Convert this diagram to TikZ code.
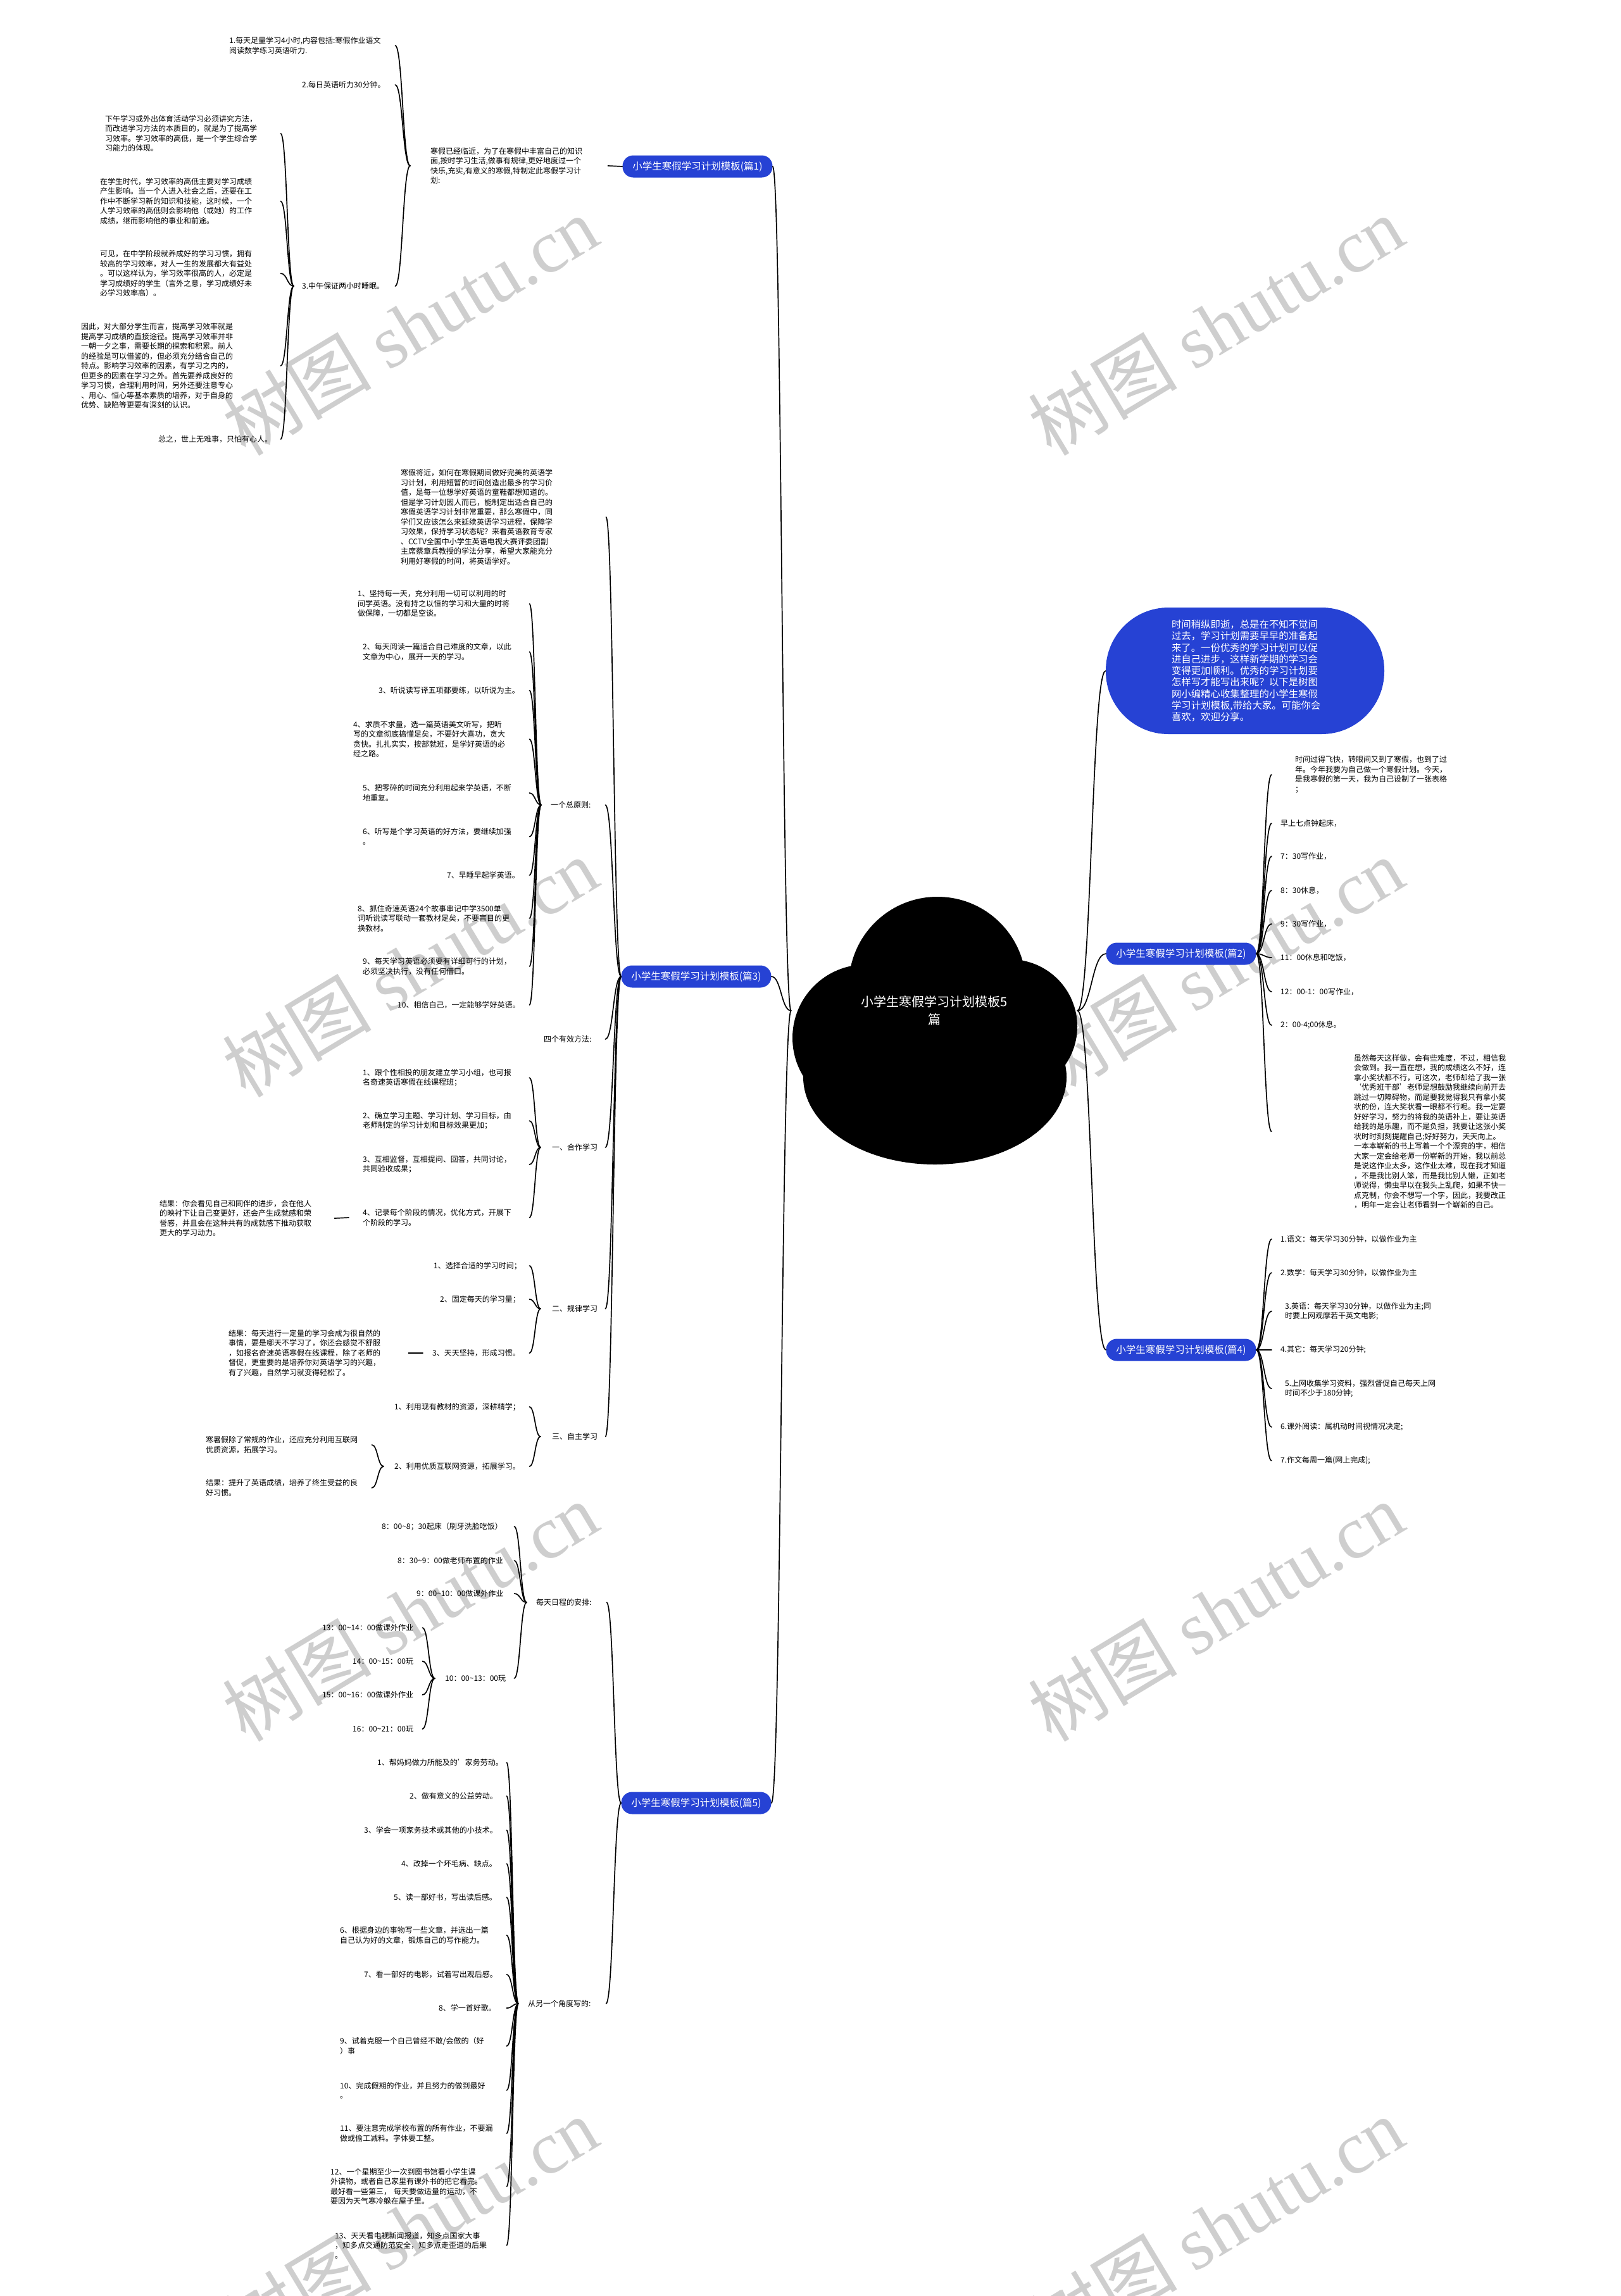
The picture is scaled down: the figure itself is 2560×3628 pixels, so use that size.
\documentclass[tikz,border=0pt]{standalone}
\usepackage{fontspec}
\setmainfont{Noto Sans CJK SC}
\newfontfamily\wmlat{Liberation Serif}
\usetikzlibrary{calc}
\definecolor{bl}{RGB}{38,66,212}
\definecolor{wmc}{RGB}{206,206,206}
\tikzset{
 cn/.style={line width=1.7pt, line cap=round, black},
 leaf/.style={font=\fontsize{12}{15.5}\selectfont, inner sep=0pt, align=left, anchor=west},
 branch/.style={fill=bl, text=white, font=\fontsize{15.5}{18}\selectfont, rounded corners=17pt, minimum height=35pt, minimum width=237pt, inner sep=0pt},
 wmk/.style={text=wmc, font=\fontsize{118}{120}\selectfont, rotate=31, inner sep=0pt},
}
\newcommand\cnx[2]{%
 \path (#1) coordinate (ca) (#2) coordinate (cb);
 \path ($(ca)!0.5!(cb)$) coordinate (cm);
 \draw[cn] (ca) .. controls (cm |- ca) and (cm |- cb) .. (cb);}
\newcommand\lfl[5]{\pgfmathsetmacro\tmpw{#4-#2}\node[leaf, text width=\tmpw pt] (#1) at (#2,#3) {#5};}
\newcommand\lfr[5]{\pgfmathsetmacro\tmpw{#4-#2}\node[leaf, inner xsep=\tmpw pt] (#1) at (#2,#3) {#5};}
\newcommand\tl{\textasciitilde}
\begin{document}
\begin{tikzpicture}[x=1pt,y=-1pt]
\useasboundingbox (0,0) rectangle (2560,3628);
\fill[white] (0,0) rectangle (2560,3628);
% watermarks
\foreach \x/\y [count=\i] in {648/514, 1921/514, 648/1528, 1921/1528, 648/2546, 1921/2546, 648/3518, 1921/3518}
 {\node[wmk] (wm\i) at (\x,\y) {树图 {\wmlat shutu.cn}};}
% cloud root
\fill[black] (1481,1557) circle[radius=140pt] (1368,1640) circle[radius=116pt] (1596,1622) circle[radius=106pt] (1477,1702) ellipse[x radius=208pt, y radius=138pt];
\node[text=white, font=\fontsize{20}{28}\selectfont, minimum width=452pt, inner sep=0pt, align=center] (root) at (1476,1597) {小学生寒假学习计划模板5\\篇};

% ===== 篇1 =====
\node[branch] (L1) at (1102,263) {小学生寒假学习计划模板(篇1)};
\lfl{I1}{680}{262}{960}{寒假已经临近，为了在寒假中丰富自己的知识\\面,按时学习生活,做事有规律,更好地度过一个\\快乐,充实,有意义的寒假,特制定此寒假学习计\\划:}
\lfl{p11}{362}{72}{624}{1.每天足量学习4小时,内容包括:寒假作业语文\\阅读数学练习英语听力.}
\lfl{p12}{477}{134}{624}{2.每日英语听力30分钟。}
\lfl{p13}{477}{452}{624}{3.中午保证两小时睡眠。}
\lfl{p131}{166}{211}{443}{下午学习或外出体育活动学习必须讲究方法，\\而改进学习方法的本质目的，就是为了提高学\\习效率。学习效率的高低，是一个学生综合学\\习能力的体现。}
\lfl{p132}{158}{318}{443}{在学生时代，学习效率的高低主要对学习成绩\\产生影响。当一个人进入社会之后，还要在工\\作中不断学习新的知识和技能，这时候，一个\\人学习效率的高低则会影响他（或她）的工作\\成绩，继而影响他的事业和前途。}
\lfl{p133}{158}{432}{443}{可见，在中学阶段就养成好的学习习惯，拥有\\较高的学习效率，对人一生的发展都大有益处\\。可以这样认为，学习效率很高的人，必定是\\学习成绩好的学生（言外之意，学习成绩好未\\必学习效率高）。}
\lfl{p134}{128}{578}{443}{因此，对大部分学生而言，提高学习效率就是\\提高学习成绩的直接途径。提高学习效率并非\\一朝一夕之事，需要长期的探索和积累。前人\\的经验是可以借鉴的，但必须充分结合自己的\\特点。影响学习效率的因素，有学习之内的，\\但更多的因素在学习之外。首先要养成良好的\\学习习惯，合理利用时间，另外还要注意专心\\、用心、恒心等基本素质的培养，对于自身的\\优势、缺陷等更要有深刻的认识。}
\lfl{p135}{250}{694}{443}{总之，世上无难事，只怕有心人。}
\cnx{root.west}{L1.east}
\cnx{L1.west}{I1.east}
\foreach \n in {p11,p12,p13} {\cnx{[xshift=-32pt]I1.west}{\n.east}}
\foreach \n in {p131,p132,p133,p134,p135} {\cnx{[xshift=-13pt]p13.west}{\n.east}}

% ===== 篇3 =====
\node[branch] (L3) at (1100,1543) {小学生寒假学习计划模板(篇3)};
\lfl{I3}{633}{817}{957}{寒假将近，如何在寒假期间做好完美的英语学\\习计划，利用短暂的时间创造出最多的学习价\\值，是每一位想学好英语的童鞋都想知道的。\\但是学习计划因人而已，能制定出适合自己的\\寒假英语学习计划非常重要，那么寒假中，同\\学们又应该怎么来延续英语学习进程，保障学\\习效果，保持学习状态呢？来看英语教育专家\\、CCTV全国中小学生英语电视大赛评委团副\\主席蔡章兵教授的学法分享，希望大家能充分\\利用好寒假的时间，将英语学好。}
\lfl{q1}{870}{1272}{956}{一个总原则:}
\lfl{q11}{565}{954}{836}{1、坚持每一天，充分利用一切可以利用的时\\间学英语。没有持之以恒的学习和大量的时将\\做保障，一切都是空谈。}
\lfl{q12}{573}{1030}{836}{2、每天阅读一篇适合自己难度的文章，以此\\文章为中心，展开一天的学习。}
\lfl{q13}{598}{1091}{836}{3、听说读写译五项都要练，以听说为主。}
\lfl{q14}{558}{1168}{836}{4、求质不求量，选一篇英语美文听写，把听\\写的文章彻底搞懂足矣，不要好大喜功，贪大\\贪快。扎扎实实，按部就班，是学好英语的必\\经之路。}
\lfl{q15}{573}{1253}{836}{5、把零碎的时间充分利用起来学英语，不断\\地重复。}
\lfl{q16}{573}{1322}{836}{6、听写是个学习英语的好方法，要继续加强\\。}
\lfl{q17}{706}{1383}{836}{7、早睡早起学英语。}
\lfl{q18}{565}{1451}{836}{8、抓住奇速英语24个故事串记中学3500单\\词听说读写联动一套教材足矣，不要盲目的更\\换教材。}
\lfl{q19}{573}{1527}{836}{9、每天学习英语必须要有详细可行的计划，\\必须坚决执行，没有任何借口。}
\lfl{q1a}{628}{1588}{836}{10、相信自己，一定能够学好英语。}
\lfl{q2}{859}{1642}{956}{四个有效方法:}
\lfl{q3}{872}{1813}{956}{一、合作学习}
\lfl{h1}{573}{1703}{836}{1、跟个性相投的朋友建立学习小组，也可报\\名奇速英语寒假在线课程班；}
\lfl{h2}{573}{1771}{836}{2、确立学习主题、学习计划、学习目标，由\\老师制定的学习计划和目标效果更加；}
\lfl{h3}{573}{1840}{836}{3、互相监督，互相提问、回答，共同讨论，\\共同验收成果；}
\lfl{h4}{573}{1924}{836}{4、记录每个阶段的情况，优化方式，开展下\\个阶段的学习。}
\lfl{h4r}{252}{1925}{528}{结果：你会看见自己和同伴的进步，会在他人\\的映衬下让自己变更好，还会产生成就感和荣\\誉感，并且会在这种共有的成就感下推动获取\\更大的学习动力。}
\lfl{q4}{872}{2068}{956}{二、规律学习}
\lfl{g1}{685}{2000}{836}{1、选择合适的学习时间；}
\lfl{g2}{695}{2053}{836}{2、固定每天的学习量；}
\lfl{g3}{683}{2138}{836}{3、天天坚持，形成习惯。}
\lfl{g3r}{361}{2138}{645}{结果：每天进行一定量的学习会成为很自然的\\事情，要是哪天不学习了，你还会感觉不舒服\\，如报名奇速英语寒假在线课程，除了老师的\\督促，更重要的是培养你对英语学习的兴趣，\\有了兴趣，自然学习就变得轻松了。}
\lfl{q5}{872}{2270}{956}{三、自主学习}
\lfl{z1}{623}{2223}{836}{1、利用现有教材的资源，深耕精学；}
\lfl{z2}{623}{2317}{836}{2、利用优质互联网资源，拓展学习。}
\lfl{z21}{325}{2283}{587}{寒暑假除了常规的作业，还应充分利用互联网\\优质资源，拓展学习。}
\lfl{z22}{325}{2351}{587}{结果：提升了英语成绩，培养了终生受益的良\\好习惯。}
\cnx{root.west}{L3.east}
\foreach \n in {I3,q1,q2,q3,q4,q5} {\cnx{L3.west}{\n.east}}
\foreach \n in {q11,q12,q13,q14,q15,q16,q17,q18,q19,q1a} {\cnx{[xshift=-15pt]q1.west}{\n.east}}
\foreach \n in {h1,h2,h3,h4} {\cnx{[xshift=-18pt]q3.west}{\n.east}}
\cnx{[xshift=-22pt]h4.west}{h4r.east}
\foreach \n in {g1,g2,g3} {\cnx{[xshift=-18pt]q4.west}{\n.east}}
\cnx{[xshift=-15pt]g3.west}{g3r.east}
\foreach \n in {z1,z2} {\cnx{[xshift=-18pt]q5.west}{\n.east}}
\foreach \n in {z21,z22} {\cnx{[xshift=-17pt]z2.west}{\n.east}}

% ===== 篇5 =====
\node[branch] (L5) at (1100,2849) {小学生寒假学习计划模板(篇5)};
\lfl{s1}{847}{2532}{958}{每天日程的安排:}
\lfl{d1}{603}{2412}{812}{8：00\tl 8；30起床（刷牙洗脸吃饭）}
\lfl{d2}{628}{2466}{812}{8：30\tl 9：00做老师布置的作业}
\lfl{d3}{658}{2518}{812}{9：00\tl 10：00做课外作业}
\lfl{d4}{703}{2652}{812}{10：00\tl 13：00玩}
\lfl{e1}{509}{2572}{667}{13：00\tl 14：00做课外作业}
\lfl{e2}{557}{2625}{667}{14：00\tl 15：00玩}
\lfl{e3}{509}{2678}{667}{15：00\tl 16：00做课外作业}
\lfl{e4}{557}{2732}{667}{16：00\tl 21：00玩}
\lfl{s2}{834}{3166}{957}{从另一个角度写的:}
\lfl{f1}{596}{2785}{800}{1、帮妈妈做力所能及的'家务劳动。}
\lfl{f2}{647}{2838}{800}{2、做有意义的公益劳动。}
\lfl{f3}{575}{2892}{800}{3、学会一项家务技术或其他的小技术。}
\lfl{f4}{634}{2945}{800}{4、改掉一个坏毛病、缺点。}
\lfl{f5}{622}{2998}{800}{5、读一部好书，写出读后感。}
\lfl{f6}{537}{3058}{800}{6、根据身边的事物写一些文章，并选出一篇\\自己认为好的文章，锻炼自己的写作能力。}
\lfl{f7}{575}{3120}{800}{7、看一部好的电影，试着写出观后感。}
\lfl{f8}{693}{3173}{800}{8、学一首好歌。}
\lfl{f9}{537}{3233}{800}{9、试着克服一个自己曾经不敢/会做的（好\\）事}
\lfl{f10}{537}{3303}{800}{10、完成假期的作业，并且努力的做到最好\\。}
\lfl{f11}{537}{3371}{800}{11、要注意完成学校布置的所有作业，不要漏\\做或偷工减料。字体要工整。}
\lfl{f12}{522}{3455}{800}{12、一个星期至少一次到图书馆看小学生课\\外读物，或者自己家里有课外书的把它看完。\\最好看一些第三， 每天要做适量的运动，不\\要因为天气寒冷躲在屋子里。}
\lfl{f13}{529}{3548}{800}{13、天天看电视新闻报道，知多点国家大事\\，知多点交通防范安全，知多点走歪道的后果\\。}
\cnx{root.west}{L5.east}
\foreach \n in {s1,s2} {\cnx{L5.west}{\n.east}}
\foreach \n in {d1,d2,d3,d4} {\cnx{[xshift=-15pt]s1.west}{\n.east}}
\foreach \n in {e1,e2,e3,e4} {\cnx{[xshift=-16pt]d4.west}{\n.east}}
\foreach \n in {f1,f2,f3,f4,f5,f6,f7,f8,f9,f10,f11,f12,f13} {\cnx{[xshift=-15pt]s2.west}{\n.east}}

% ===== right side =====
\node[fill=bl, rounded corners=99pt, minimum width=440pt, minimum height=200pt, text=white, font=\fontsize{15.4}{18.3}\selectfont, align=left, text width=232pt, inner sep=0pt] (bub) at (1967,1060) {时间稍纵即逝，总是在不知不觉间\\过去，学习计划需要早早的准备起\\来了。一份优秀的学习计划可以促\\进自己进步，这样新学期的学习会\\变得更加顺利。优秀的学习计划要\\怎样写才能写出来呢？以下是树图\\网小编精心收集整理的小学生寒假\\学习计划模板,带给大家。可能你会\\喜欢，欢迎分享。};
\cnx{root.east}{bub.west}

\node[branch] (L2) at (1866,1507) {小学生寒假学习计划模板(篇2)};
\lfr{b1}{2009}{1224}{2046}{时间过得飞快，转眼间又到了寒假，也到了过\\年。今年我要为自己做一个寒假计划。今天，\\是我寒假的第一天，我为自己设制了一张表格\\；}
\lfr{b2}{2009}{1301}{2023}{早上七点钟起床，}
\lfr{b3}{2009}{1353}{2023}{7：30写作业，}
\lfr{b4}{2009}{1407}{2023}{8：30休息，}
\lfr{b5}{2009}{1460}{2023}{9：30写作业，}
\lfr{b6}{2009}{1513}{2023}{11：00休息和吃饭，}
\lfr{b7}{2009}{1567}{2023}{12：00-1：00写作业，}
\lfr{b8}{2009}{1620}{2023}{2：00-4;00休息。}
\lfr{b9}{2009}{1788}{2139}{虽然每天这样做，会有些难度，不过，相信我\\会做到。我一直在想，我的成绩这么不好，连\\拿小奖状都不行，可这次，老师却给了我一张\\‘优秀班干部’老师是想鼓励我继续向前开去\\跳过一切障碍物，而是要我觉得我只有拿小奖\\状的份，连大奖状看一眼都不行呢。我一定要\\好好学习，努力的将我的英语补上，要让英语\\给我的是乐趣，而不是负担，我要让这张小奖\\状时时刻刻提醒自己;好好努力，天天向上。\\一本本崭新的书上写着一个个漂亮的字，相信\\大家一定会给老师一份崭新的开始，我以前总\\是说这作业太多，这作业太难，现在我才知道\\，不是我比别人笨，而是我比别人懒，正如老\\师说得，懒虫早以在我头上乱爬，如果不快一\\点克制，你会不想写一个字，因此，我要改正\\，明年一定会让老师看到一个崭新的自己。}
\cnx{root.east}{L2.west}
\foreach \n in {b1,b2,b3,b4,b5,b6,b7,b8,b9} {\cnx{L2.east}{\n.west}}

\node[branch] (L4) at (1866,2133) {小学生寒假学习计划模板(篇4)};
\lfr{a1}{2009}{1958}{2023}{1.语文：每天学习30分钟，以做作业为主}
\lfr{a2}{2009}{2011}{2023}{2.数学：每天学习30分钟，以做作业为主}
\lfr{a3}{2009}{2072}{2030}{3.英语：每天学习30分钟，以做作业为主;同\\时要上网观摩若干英文电影;}
\lfr{a4}{2009}{2133}{2023}{4.其它：每天学习20分钟;}
\lfr{a5}{2009}{2194}{2030}{5.上网收集学习资料，强烈督促自己每天上网\\时间不少于180分钟;}
\lfr{a6}{2009}{2255}{2023}{6.课外阅读：属机动时间视情况决定;}
\lfr{a7}{2009}{2308}{2023}{7.作文每周一篇(网上完成);}
\cnx{root.east}{L4.west}
\foreach \n in {a1,a2,a3,a4,a5,a6,a7} {\cnx{L4.east}{\n.west}}
\end{tikzpicture}
\end{document}
